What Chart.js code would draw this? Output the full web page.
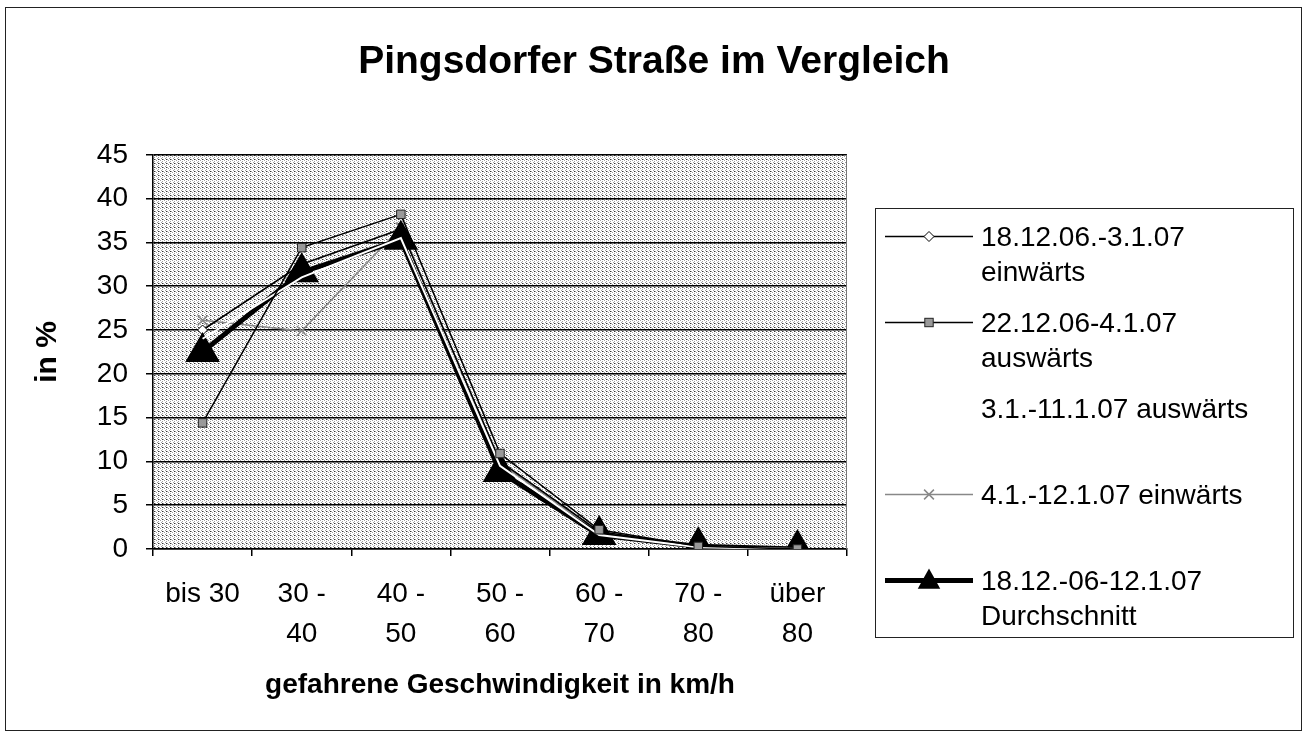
<!DOCTYPE html>
<html>
<head>
<meta charset="utf-8">
<script src="https://cdn.jsdelivr.net/npm/chart.js@4/dist/chart.umd.min.js"></script>
<style>
  html, body { margin: 0; padding: 0; background: #fff; }
  #frame { position: absolute; left: 5px; top: 7px; width: 1297px; height: 724px; border: 1px solid #222; box-sizing: border-box; }
  #wrap { position: absolute; left: 0; top: 0; width: 1308px; height: 738px; }
  #legend { position: absolute; left: 875px; top: 208px; width: 419px; height: 430px; border: 1px solid #222; box-sizing: border-box; padding-top: 10px; font-family: "Liberation Sans", Arial, sans-serif; font-size: 28px; line-height: 35px; color: #000; }
  .item { display: flex; height: 86px; }
  .icon { width: 105px; flex: none; }
  .icon svg { display: block; margin-left: 9px; }
</style>
</head>
<body>
<div id="frame"></div>
<div id="wrap"><canvas id="myChart" width="1308" height="738"></canvas></div>
<div id="legend"></div>
<script>
const categorias = [["bis 30"], ["30 -", "40"], ["40 -", "50"], ["50 -", "60"], ["60 -", "70"], ["70 -", "80"], ["über", "80"]];
const nomes = [
  ["18.12.06.-3.1.07", "einwärts"],
  ["22.12.06-4.1.07", "auswärts"],
  ["3.1.-11.1.07 auswärts"],
  ["4.1.-12.1.07 einwärts"],
  ["18.12.-06-12.1.07", "Durchschnitt"],
];
const einwaerts1 = [25, 32.5, 36.5, 10, 2, 0.3, 0];
const auswaerts1 = [14.4, 34.4, 38.2, 10.9, 2.2, 0.3, 0];
const auswaerts2 = [24, 31, 35.5, 9.5, 1.6, 0.2, 0];
const einwaerts2 = [26.1, 24.9, 36.7, 9.8, 1.8, 0.3, 0];
const durchschnitt = [22.5, 31.6, 35.3, 8.8, 1.6, 0.3, 0];
const yTicks = { min: 0, max: 45, step: 5 };

const fonte = '"Liberation Sans", Arial, sans-serif';

// stippled grey fill like the old Excel plot area
const tile = document.createElement("canvas");
tile.width = 4; tile.height = 4;
const tctx = tile.getContext("2d");
tctx.fillStyle = "#fff"; tctx.fillRect(0, 0, 4, 4);
tctx.fillStyle = "#a0a0a0";
[[0, 0], [2, 1], [1, 2], [3, 3]].forEach(p => tctx.fillRect(p[0], p[1], 1, 1));
tctx.fillStyle = "#333";
[[2, 3]].forEach(p => tctx.fillRect(p[0], p[1], 1, 1));

const plotBg = {
  id: "plotBg",
  beforeDraw(chart) {
    const { ctx, chartArea: a } = chart;
    ctx.save();
    ctx.fillStyle = ctx.createPattern(tile, "repeat");
    ctx.fillRect(a.left, a.top, a.width, a.height);
    ctx.restore();
  },
  beforeDatasetsDraw(chart) {
    const { ctx, chartArea: a } = chart;
    ctx.save();
    ctx.strokeStyle = "#777";
    ctx.lineWidth = 1;
    ctx.beginPath();
    ctx.moveTo(a.right - 0.5, a.top);
    ctx.lineTo(a.right - 0.5, a.bottom);
    ctx.stroke();
    ctx.restore();
  },
};

const ctx = document.getElementById("myChart");
const grafico = new Chart(ctx, {
  type: "line",
  data: {
    labels: categorias,
    datasets: [
      {
        label: nomes[0].join(" "),
        data: einwaerts1,
        borderColor: "#000",
        borderWidth: 1.5,
        pointStyle: "rectRot",
        pointRadius: 5,
        pointBackgroundColor: "#fff",
        pointBorderColor: "#000",
        pointBorderWidth: 1,
        order: 3,
      },
      {
        label: nomes[1].join(" "),
        data: auswaerts1,
        borderColor: "#000",
        borderWidth: 1.5,
        pointStyle: "rect",
        pointRadius: 6,
        pointBackgroundColor: "#999",
        pointBorderColor: "#222",
        pointBorderWidth: 1,
        order: 0,
      },
      {
        label: nomes[2].join(" "),
        data: auswaerts2,
        borderColor: "#fff",
        borderWidth: 2,
        pointRadius: 0,
        order: 1,
      },
      {
        label: nomes[3].join(" "),
        data: einwaerts2,
        borderColor: "#888",
        borderWidth: 1.5,
        pointStyle: "crossRot",
        pointRadius: 7,
        pointBorderColor: "#888",
        pointBorderWidth: 1.5,
        order: 4,
      },
      {
        label: nomes[4].join(" "),
        data: durchschnitt,
        borderColor: "#000",
        borderWidth: 5,
        pointStyle: "triangle",
        pointRadius: 15,
        pointBackgroundColor: "#000",
        pointBorderColor: "#000",
        order: 2,
      },
    ],
  },
  options: {
    responsive: false,
    animation: false,
    layout: { padding: 0 },
    elements: { line: { tension: 0 } },
    plugins: {
      legend: { display: false },
      tooltip: { enabled: false },
      title: {
        display: true,
        text: "Pingsdorfer Straße im Vergleich",
        color: "#000",
        font: { family: fonte, size: 39, weight: "bold", lineHeight: 1.2 },
        padding: { top: 39, bottom: 69 },
      },
    },
    scales: {
      x: {
        offset: true,
        grid: { offset: true, drawOnChartArea: false, color: "#000", tickLength: 7, lineWidth: 1.5 },
        border: { color: "#000", width: 1.5 },
        ticks: { color: "#000", padding: 19, maxRotation: 0, autoSkip: false, font: { family: fonte, size: 28, lineHeight: 1.4 } },
        title: {
          display: true,
          text: "gefahrene Geschwindigkeit in km/h",
          color: "#000",
          font: { family: fonte, size: 28, weight: "bold", lineHeight: 1.2 },
          padding: { top: 0, bottom: 36 },
        },
        afterFit(s) { s.height = 189; },
      },
      y: {
        min: yTicks.min,
        max: yTicks.max,
        grid: { color: "#000", lineWidth: 1.5, tickLength: 7 },
        border: { color: "#000", width: 1.5 },
        ticks: { stepSize: yTicks.step, color: "#000", padding: 18, font: { family: fonte, size: 28 } },
        title: {
          display: true,
          text: "in %",
          color: "#000",
          font: { family: fonte, size: 30, weight: "bold", lineHeight: 1.2 },
          padding: { top: 30, bottom: 0 },
        },
        afterFit(s) { s.width = 153; },
      },
      rechts: {
        position: "right",
        grid: { display: false },
        border: { display: false },
        ticks: { display: false },
        afterFit(s) { s.width = 461; },
      },
    },
  },
  plugins: [plotBg],
});

// legend built from the datasets
const legend = document.getElementById("legend");
grafico.data.datasets.forEach((ds, i) => {
  const item = document.createElement("div");
  item.className = "item";
  const r = ds.pointRadius || 0;
  let marker = "";
  if (ds.pointStyle === "rectRot") {
    marker = `<polygon points="44,${17.5 - r} ${44 + r},17.5 44,${17.5 + r} ${44 - r},17.5" fill="${ds.pointBackgroundColor}" stroke="${ds.pointBorderColor}" stroke-width="1"/>`;
  } else if (ds.pointStyle === "rect") {
    marker = `<rect x="${44 - r * 0.7}" y="${17.5 - r * 0.7}" width="${r * 1.4}" height="${r * 1.4}" fill="${ds.pointBackgroundColor}" stroke="${ds.pointBorderColor}"/>`;
  } else if (ds.pointStyle === "crossRot") {
    const d = r * 0.7;
    marker = `<path d="M${44 - d},${17.5 - d}L${44 + d},${17.5 + d}M${44 + d},${17.5 - d}L${44 - d},${17.5 + d}" stroke="${ds.pointBorderColor}" stroke-width="1.5"/>`;
  } else if (ds.pointStyle === "triangle") {
    marker = `<polygon points="44,${17.5 - r * 0.8} ${44 + r * 0.75},${17.5 + r * 0.55} ${44 - r * 0.75},${17.5 + r * 0.55}" fill="#000"/>`;
  }
  const svg = `<svg width="90" height="35"><line x1="0" y1="17.5" x2="88" y2="17.5" stroke="${ds.borderColor}" stroke-width="${ds.borderWidth}"/>${marker}</svg>`;
  item.innerHTML = `<div class="icon">${svg}</div><div>${nomes[i].join("<br>")}</div>`;
  legend.appendChild(item);
});
</script>
</body>
</html>
